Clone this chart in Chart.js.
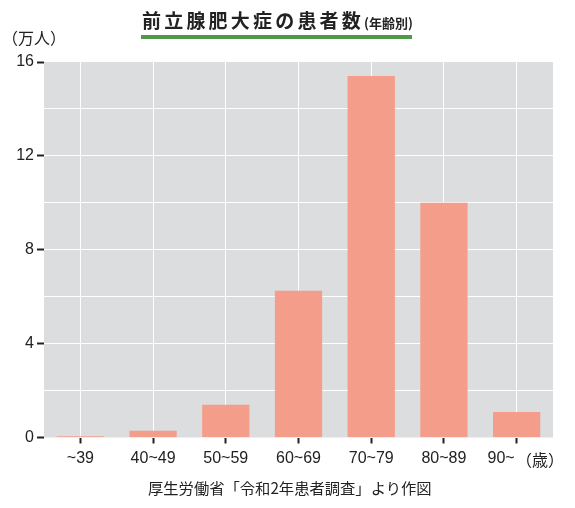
<!DOCTYPE html>
<html>
<head>
<meta charset="utf-8">
<script src="https://cdn.jsdelivr.net/npm/chart.js@4"></script>
<style>
  body { margin: 0; background: #fff; }
  #wrap { position: relative; width: 575px; height: 508px; }
  #wrap div { position: absolute; white-space: nowrap; color: #222; }
  #title { left: 142px; top: 6px; font: bold 19px "Noto Sans CJK JP"; letter-spacing: 3.2px; }
  #title span { font-size: 13px; letter-spacing: 0; }
  #bar { left: 141px; top: 35px; width: 271px; height: 4px; background: #4f9a46; }
  #unit { left: 2px; top: 25px; font: 16px "Noto Sans CJK JP"; }
  #age { left: 516px; top: 447px; font: 16px "Noto Sans CJK JP"; }
  #source { left: 148px; top: 476px; font: 15.3px "Noto Sans CJK JP"; }
</style>
</head>
<body>
<div id="wrap">
  <canvas id="chart" width="575" height="508"></canvas>
  <div id="title">前立腺肥大症の患者数<span>(年齢別)</span></div>
  <div id="bar"></div>
  <div id="unit">（万人）</div>
  <div id="age">（歳）</div>
  <div id="source">厚生労働省「令和2年患者調査」より作図</div>
</div>
<script>
const ageGroups = ['~39', '40~49', '50~59', '60~69', '70~79', '80~89', '90~'];
const patients = [0.05, 0.29, 1.4, 6.25, 15.4, 10.0, 1.09];
const yTicks = [0, 4, 8, 12, 16];

// gray plot background
const plotBg = {
    id: 'plotBg',
    beforeDraw(chart) {
        const a = chart.chartArea;
        const c = chart.ctx;
        c.save();
        c.fillStyle = '#dcdddf';
        c.fillRect(a.left, a.top, a.right - a.left, a.bottom - a.top);
        c.restore();
    }
};

let ctx = document.getElementById('chart').getContext('2d');

new Chart(ctx, {
    type: 'bar',
    data: {
        labels: ageGroups,
        datasets: [{
            data: patients,
            backgroundColor: '#f49d8a',
            barPercentage: 0.65,
            categoryPercentage: 1
        }]
    },
    options: {
        responsive: false,
        animation: false,
        devicePixelRatio: 1,
        layout: { padding: { left: 0, right: 22, top: 62, bottom: 0 } },
        plugins: { legend: { display: false }, tooltip: { enabled: false } },
        scales: {
            x: {
                afterFit(scale) { scale.height = 70.5; },
                border: { display: false },
                grid: {
                    offset: false,
                    color: '#fff',
                    lineWidth: 1,
                    tickColor: '#222',
                    tickWidth: 2,
                    tickLength: 6
                },
                ticks: {
                    color: '#222',
                    padding: 5,
                    font: { family: 'Liberation Sans', size: 16 },
                    // last label sits left of its tick to leave room for (歳)
                    callback: (v, i) => i === ageGroups.length - 1 ? ageGroups[i] + '       ' : ageGroups[i]
                }
            },
            y: {
                min: 0,
                max: 16,
                afterFit(scale) { scale.width = 44; },
                border: { display: false },
                grid: {
                    color: c => (c.tick && (c.tick.value === 0 || c.tick.value === 16)) ? 'transparent' : '#fff',
                    lineWidth: 1,
                    tickColor: c => (c.tick && yTicks.includes(c.tick.value)) ? '#222' : 'transparent',
                    tickWidth: 2,
                    tickLength: 7
                },
                ticks: {
                    stepSize: 2,
                    color: '#222',
                    padding: 3,
                    font: { family: 'Liberation Sans', size: 16 },
                    callback: v => yTicks.includes(v) ? v : ''
                }
            }
        }
    },
    plugins: [plotBg]
});
</script>
</body>
</html>
